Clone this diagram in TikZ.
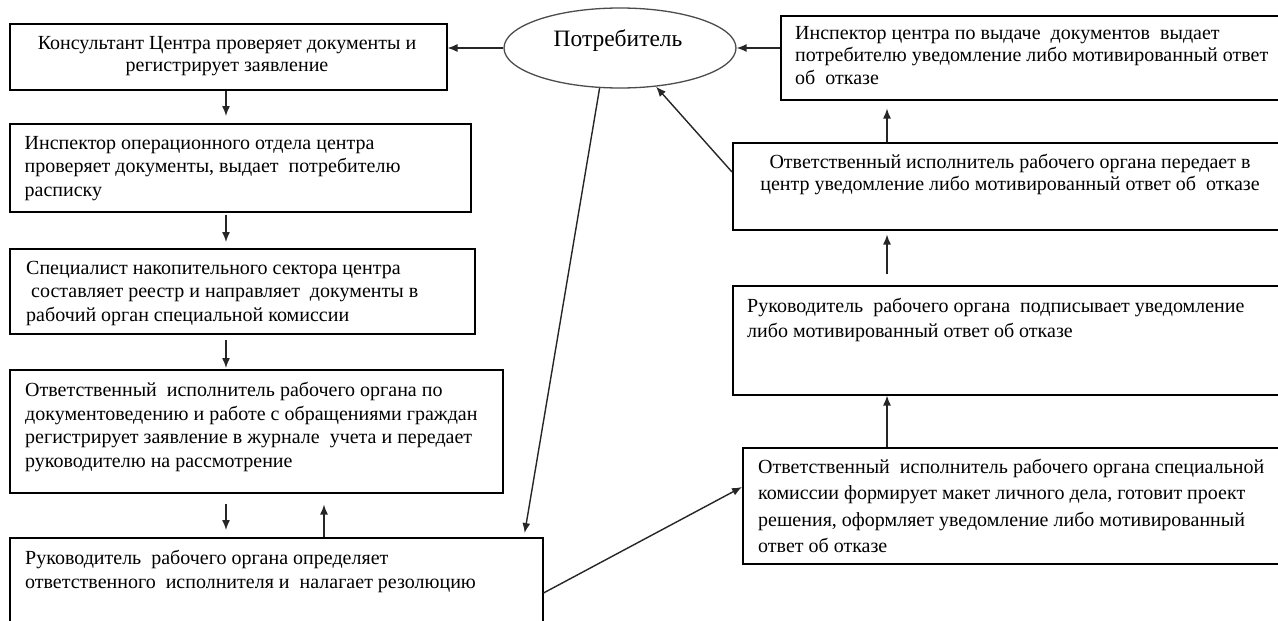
\documentclass[tikz,border=0pt]{standalone}
\usepackage{fontspec}
\setmainfont{Liberation Serif}
\usetikzlibrary{arrows.meta,calc,shapes.geometric}
\begin{document}
\begin{tikzpicture}[x=1pt,y=-1pt,
  box/.style={draw=black, line width=1.5pt, rectangle, inner sep=0pt, anchor=north west},
  txt/.style={anchor=north west, align=left, inner sep=0pt, font=\fontsize{20}{#1}\selectfont},
  txt/.default=23.5,
  ctxt/.style={anchor=north, align=center, inner sep=0pt, font=\fontsize{20}{#1}\selectfont},
  ctxt/.default=22.5,
  arr/.style={-{Latex[length=10pt,width=8pt]}, line width=1.4pt, draw=black!85}]
\useasboundingbox (0,0) rectangle (1278,621);
\fill[white] (0,0) rectangle (1278,621);
% column coordinates for vertical arrows
\coordinate (L) at (226,0);
\coordinate (L2) at (324,0);
\coordinate (R) at (887,0);
% left column boxes
\node[box, minimum width=437pt, minimum height=66pt] (b1) at (9,23) {};
\node[box, minimum width=461pt, minimum height=88pt] (b2) at (9,123) {};
\node[box, minimum width=465pt, minimum height=85pt] (b3) at (9,248) {};
\node[box, minimum width=493pt, minimum height=123pt] (b4) at (9,369) {};
\node[box, minimum width=533pt, minimum height=110pt] (b5) at (9,537) {};
% right column boxes
\node[box, minimum width=530pt, minimum height=84pt] (r1) at (780,15) {};
\node[box, minimum width=578pt, minimum height=87pt] (r2) at (732,142) {};
\node[box, minimum width=578pt, minimum height=109pt] (r3) at (732,285) {};
\node[box, minimum width=568pt, minimum height=116pt] (r4) at (742,447) {};
% ellipse
\node[draw=black!70, line width=1.3pt, ellipse, minimum width=232pt, minimum height=80pt, inner sep=0pt] (e) at (620,48) {};
\node[inner sep=0pt, font=\fontsize{23.5}{27}\selectfont] (et) at (618,41) {Потребитель};
% texts
\node[ctxt=22] (t1) at (227,36) {Консультант Центра проверяет документы и\\регистрирует заявление};
\node[txt] (t2) at (24.5,136) {Инспектор операционного отдела центра\\проверяет документы, выдает\ \ потребителю\\расписку};
\node[txt] (t3) at (26,261) {Специалист накопительного сектора центра\\\ составляет реестр и направляет\ \ документы в\\рабочий орган специальной комиссии};
\node[txt=23.7] (t4) at (25,382) {Ответственный\ \ исполнитель рабочего органа по\\документоведению и работе с обращениями граждан\\регистрирует заявление в\ журнале\ \ учета и передает\\руководителю на рассмотрение};
\node[txt=24] (t5) at (25,550) {Руководитель\ \ рабочего органа определяет\\ответственного\ \ исполнителя и\ \ налагает резолюцию};
\node[txt=22.5] (s1) at (795,26) {Инспектор центра по выдаче\ \ документов\ \ выдает\\потребителю уведомление либо мотивированный ответ\\об\ \ отказе};
\node[ctxt=22] (s2) at (1010,154) {Ответственный исполнитель рабочего органа передает в\\центр уведомление либо мотивированный ответ об\ \ отказе};
\node[txt=25] (s3) at (747,298) {Руководитель\ \ рабочего органа\ \ подписывает уведомление\\либо мотивированный ответ об отказе};
\node[txt=26.3] (s4) at (758,459) {Ответственный\ \ исполнитель рабочего органа специальной\\комиссии формирует макет личного дела, готовит проект\\решения, оформляет уведомление либо мотивированный\\ответ об отказе};
% connectors
\draw[arr] (e.west) -- (b1.east |- e.west);
\draw[arr, shorten >=7pt] (b1.south -| L) -- (b2.north -| L);
\draw[arr, shorten <=2pt, shorten >=6pt] (b2.south -| L) -- (b3.north -| L);
\draw[arr, shorten <=5pt, shorten >=1pt] (b3.south -| L) -- (b4.north -| L);
\draw[arr, shorten <=10pt, shorten >=7pt] (b4.south -| L) -- (b5.north -| L);
\draw[arr, shorten >=11pt] (b5.north -| L2) -- (b4.south -| L2);
\draw[arr, shorten >=4pt] (e.243) -- ($(b5.north west)+(515,0)$);
\draw[arr] ($(b5.north east)+(0,56)$) -- ($(r4.north west)+(0,40)$);
\draw[arr] (r4.north -| R) -- (r3.south -| R);
\draw[arr, shorten <=11pt, shorten >=4pt] (r3.north -| R) -- (r2.south -| R);
\draw[arr, shorten >=8pt] (r2.north -| R) -- (r1.south -| R);
\draw[arr] ($(r2.north west)+(0,30)$) -- (e.313);
\draw[arr] (r1.west |- e.east) -- (e.east);
\end{tikzpicture}
\end{document}
